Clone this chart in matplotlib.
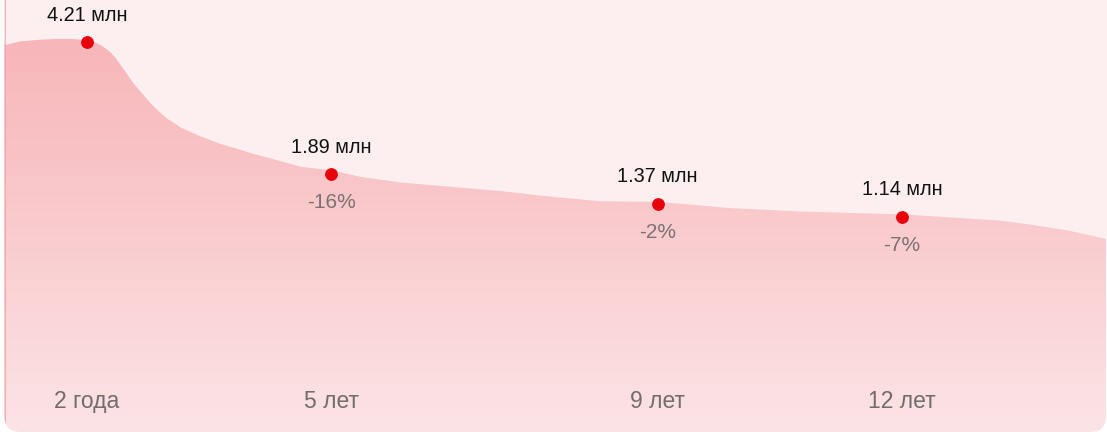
import numpy as np
import matplotlib
matplotlib.use('Agg')
import matplotlib.pyplot as plt
from matplotlib.patches import FancyBboxPatch
from matplotlib.colors import LinearSegmentedColormap

plt.rcParams['font.family'] = ['Liberation Sans', 'DejaVu Sans']

# точки графика
years = [2, 5, 9, 12]
x_labels = ['2 года', '5 лет', '9 лет', '12 лет']
values = [4.21, 1.89, 1.37, 1.14]
changes = [None, -16, -2, -7]

# форма сглаженной области
curve_years = [1.0, 1.18, 1.42, 1.67, 1.85, 2.0, 2.10, 2.16, 2.22, 2.28, 2.34, 2.40,
               2.47, 2.53, 2.59, 2.65, 2.71, 2.77, 2.83, 2.90, 2.98, 3.06, 3.14,
               3.26, 3.39, 3.63, 4.0, 4.61, 5.0, 5.35, 5.84, 6.58, 7.07, 7.56,
               8.29, 9.0, 9.89, 10.75, 12.0, 13.2, 13.57, 14.0, 14.31, 14.52]
curve_values = [4.17, 4.23, 4.26, 4.275, 4.27, 4.245, 4.21, 4.165, 4.11, 4.04, 3.95, 3.83,
                3.69, 3.56, 3.45, 3.35, 3.25, 3.15, 3.06, 2.97, 2.87, 2.80, 2.72,
                2.64, 2.56, 2.43, 2.27, 2.03, 1.96, 1.85, 1.75, 1.66, 1.60, 1.52,
                1.42, 1.41, 1.30, 1.24, 1.19, 1.08, 1.01, 0.915, 0.82, 0.75]

W, H = 1107, 435
fig = plt.figure(figsize=(W / 100, H / 100), dpi=100)
fig.patch.set_facecolor('white')

card_color = '#fdeff0'

# фон-карточка с градиентом (в пикселях)
ax_bg = fig.add_axes([0, 0, 1, 1])
ax_bg.set_xlim(0, W)
ax_bg.set_ylim(H, 0)
ax_bg.axis('off')
card = FancyBboxPatch((4.5, -40), W - 5.5, 40 + 433, boxstyle='round,pad=0,rounding_size=16',
                      facecolor='none', edgecolor='none')
ax_bg.add_patch(card)
cmap = LinearSegmentedColormap.from_list('g', [(0, '#f7b2b5'), (0.45, '#f9c7ca'), (1, '#fce4e6')])
grad = np.linspace(0, 1, 256).reshape(-1, 1)
img = ax_bg.imshow(grad, cmap=cmap, extent=(0, W, 0, H), origin='lower', aspect='auto')
ax_bg.set_ylim(H, 0)
img.set_clip_path(card)

# основной график
ax = fig.add_axes([0, 0, 1, 1])
ax.patch.set_alpha(0)
ax.set_xlim(0.933, 14.515)
ax.set_ylim(-2.679, 4.966)
ax.axis('off')

ax.fill_between(curve_years, curve_values, 6, color=card_color, linewidth=0)
edge, = ax.plot([curve_years[0], curve_years[0]], [curve_values[0], -3],
                color='#f2a2a7', linewidth=1.2, solid_capstyle='butt')
edge.set_clip_path(card.get_path(), card.get_transform())

ax.scatter(years, values, s=85, color='#e8000b', zorder=5, linewidths=0)

for yr, v, ch, lab in zip(years, values, changes, x_labels):
    ax.annotate(f'{v:.2f} млн', (yr, v), xytext=(0, 20), textcoords='offset points',
                ha='center', va='center', fontsize=14.3, color='#111111')
    if ch is not None:
        ax.annotate(f'{ch}%', (yr, v), xytext=(0, -20), textcoords='offset points',
                    ha='center', va='center', fontsize=15, color='#7a7272')
    ax.annotate(lab, (yr, 0), xycoords=('data', 'axes fraction'), xytext=(0, 24),
                textcoords='offset points', ha='center', va='center',
                fontsize=16.5, color='#736c6c')

fig.savefig('out.png', dpi=100)
